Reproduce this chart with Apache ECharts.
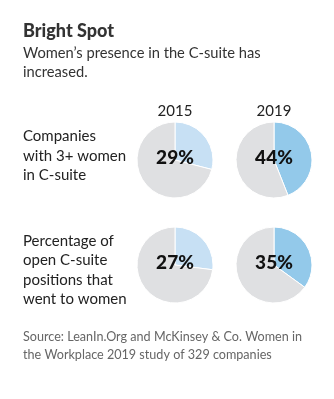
<!DOCTYPE html>
<html><head><meta charset="utf-8">
<script src="https://cdn.jsdelivr.net/npm/echarts@6/dist/echarts.min.js"></script>
<style>html,body{margin:0;padding:0;background:#fff}#c{width:334px;height:399px}</style>
</head><body><div id="c"></div>
<script>
var years = ['2015', '2019'];
var rowLabels = ['Companies\nwith 3+ women\nin C-suite', 'Percentage of\nopen C-suite\npositions that\nwent to women'];
var values2015 = [29, 27];
var values2019 = [44, 35];
var yearColors = ['#c7e0f4', '#93c9ea'];
var FONT = 'Lato';

var chart = echarts.init(document.getElementById('c'));
var colX = [175, 274];
var rowY = [160, 265];
var labelY = [156, 270];
var series = [];
[values2015, values2019].forEach(function (vals, ci) {
  vals.forEach(function (v, ri) {
    series.push({
      type: 'pie',
      center: [colX[ci], rowY[ri]],
      radius: [0, 38],
      startAngle: 90,
      clockwise: true,
      silent: true,
      emphasis: {disabled: true},
      labelLine: {show: false},
      itemStyle: {borderColor: '#fff', borderWidth: 1},
      data: [
        {value: v, itemStyle: {color: yearColors[ci]},
         label: {show: true, position: 'center', formatter: '{c}%', fontFamily: FONT, fontWeight: 900, fontSize: 19, color: '#111', offset: [0, -2]}},
        {value: 100 - v, itemStyle: {color: '#dfe0e2'}, label: {show: false}}
      ]
    });
  });
});
var graphics = [
  {type: 'text', left: 23, top: 22, style: {text: 'Bright Spot', fontFamily: FONT, fontWeight: 900, fontSize: 18, fill: '#333'}},
  {type: 'text', left: 23, top: 44, style: {text: 'Women\u2019s presence in the C-suite has\nincreased.', fontFamily: FONT, fontSize: 14.7, lineHeight: 19, fill: '#333'}},
  {type: 'text', left: 23, top: 328, style: {text: 'Source: LeanIn.Org and McKinsey & Co. Women in\nthe Workplace 2019 study of 329 companies', fontFamily: FONT, fontSize: 12.6, lineHeight: 18, fill: '#666'}}
];
years.forEach(function (y, i) {
  graphics.push({type: 'text', x: colX[i], y: 111, style: {text: y, fontFamily: FONT, fontSize: 15, fill: '#222', align: 'center', verticalAlign: 'middle'}});
});
rowLabels.forEach(function (t, i) {
  graphics.push({type: 'text', x: 23, y: labelY[i], style: {text: t, fontFamily: FONT, fontSize: 15, lineHeight: 19.5, fill: '#222', align: 'left', verticalAlign: 'middle'}});
});
chart.setOption({animation: false, series: series, graphic: graphics});
</script></body></html>
